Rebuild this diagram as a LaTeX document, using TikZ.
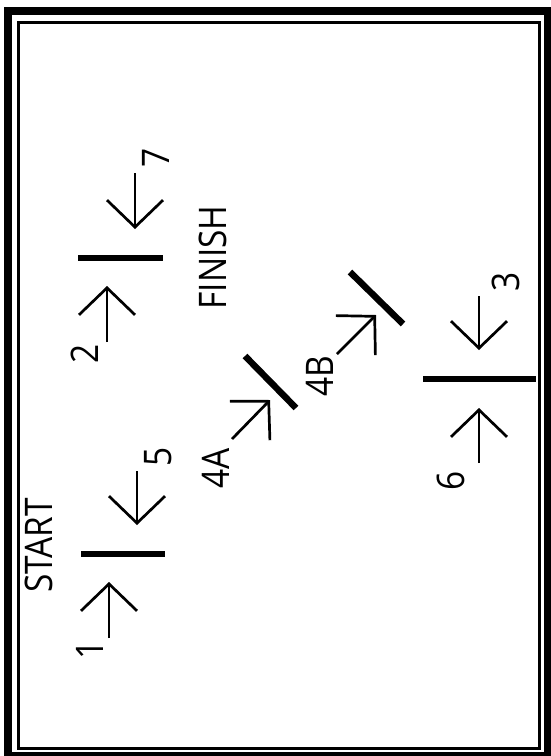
\documentclass[tikz,border=0pt]{standalone}
\usepackage{fontspec}
\usepackage{tikz}
\usetikzlibrary{arrows.meta}
\newfontfamily\labelfont[FakeStretch=0.88]{Open Sans}

\begin{document}
\begin{tikzpicture}[
  x=1pt,y=-1pt,
  frame/.style={draw=black,line width=8pt},
  innerframe/.style={draw=black,line width=2.8pt},
  gate/.style={draw=black,line width=6.5pt},
  a/.style={-{Straight Barb[length=27pt,width=56pt]},line width=2.7pt},
  lbl/.style={rotate=90,inner sep=0pt,font=\labelfont\fontsize{38}{40}\selectfont}
]
  \useasboundingbox (0,0) rectangle (551,756);
  \draw[frame] (7.5,10.5) rectangle (547.5,756);
  \draw[innerframe] (18.3,22.5) rectangle (539.8,748.5);
  % gates
  \coordinate (startL) at (81,554);   \coordinate (startR) at (165,554);
  \coordinate (finishL) at (78,258);  \coordinate (finishR) at (163,258);
  \coordinate (midL) at (423,379);    \coordinate (midR) at (536,379);
  \coordinate (gateAa) at (245,356);  \coordinate (gateAb) at (296,408);
  \coordinate (gateBa) at (350,272);  \coordinate (gateBb) at (403,324);
  \draw[gate] (startL) -- (startR);
  \draw[gate] (finishL) -- (finishR);
  \draw[gate] (midL) -- (midR);
  \draw[gate] (gateAa) -- (gateAb);
  \draw[gate] (gateBa) -- (gateBb);
  % arrow ends
  \coordinate (from1) at (109,638);  \coordinate (to1) at (109,582);
  \coordinate (from5) at (137,471);  \coordinate (to5) at (137,525);
  \coordinate (from2) at (107,342);  \coordinate (to2) at (107,286);
  \coordinate (from7) at (135,173);  \coordinate (to7) at (135,229);
  \coordinate (from3) at (479,296);  \coordinate (to3) at (479,350);
  \coordinate (from6) at (479,463);  \coordinate (to6) at (479,408);
  \coordinate (fromA) at (232,439);  \coordinate (toA) at (270,400);
  \coordinate (fromB) at (337,354);  \coordinate (toB) at (376,315);
  \draw[a] (from1) -- (to1);
  \draw[a] (from5) -- (to5);
  \draw[a] (from2) -- (to2);
  \draw[a] (from7) -- (to7);
  \draw[a] (from3) -- (to3);
  \draw[a] (from6) -- (to6);
  \draw[a] (fromA) -- (toA);
  \draw[a] (fromB) -- (toB);
  % labels
  \node[lbl] (start) at (38.5,545.5) {START};
  \node[lbl] (finish) at (212.5,257.5) {FINISH};
  \node[lbl] (n1) at (90,650) {1};
  \node[lbl] (n2) at (85,354) {2};
  \node[lbl] (n3) at (506,282) {3};
  \node[lbl] (n4A) at (216,468) {4A};
  \node[lbl] (n4B) at (320,376) {4B};
  \node[lbl] (n5) at (158,457) {5};
  \node[lbl] (n6) at (451,481) {6};
  \node[lbl] (n7) at (156,158) {7};
\end{tikzpicture}
\end{document}
